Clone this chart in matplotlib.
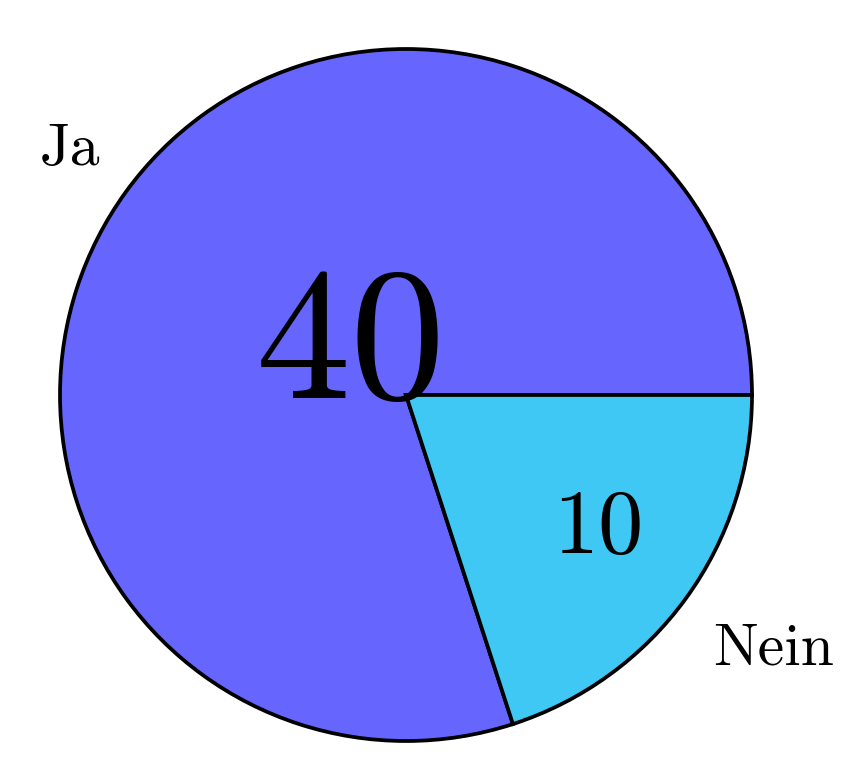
import matplotlib
matplotlib.use("Agg")
import matplotlib.pyplot as plt

categories = ["Ja", "Nein"]
values = [40, 10]
colors = ["#6666FF", "#40C8F4"]

plt.rcParams['font.family'] = ['cmr10', 'DejaVu Serif']
plt.rcParams['axes.unicode_minus'] = False

fig = plt.figure(figsize=(8.61, 7.81), dpi=100)
ax = fig.add_axes([0, 0, 1, 1])
wedges, texts, autotexts = ax.pie(
    values, labels=categories, colors=colors, startangle=0, counterclock=True,
    autopct=lambda p: f"{p * sum(values) / 100:.0f}",
    wedgeprops=dict(edgecolor="black", linewidth=2.7),
)

# value label positions / sizes
val_pos = [(-0.159, -0.009, 137), (0.555, -0.457, 65)]
lab_pos = [(-0.971, 0.665, 43), (1.061, -0.780, 43)]
for t, (x, y, s) in zip(autotexts, val_pos):
    t.set_position((x, y)); t.set_fontsize(s)
    t.set_ha('center'); t.set_va('baseline')
for t, (x, y, s) in zip(texts, lab_pos):
    t.set_position((x, y)); t.set_fontsize(s)
    t.set_ha('center'); t.set_va('baseline')

ax.set_xlim(-406 / 346, (861 - 406) / 346)
ax.set_ylim((395 - 781) / 346, 395 / 346)
ax.set_aspect('auto')
ax.axis('off')
fig.savefig("out.png", dpi=100)
